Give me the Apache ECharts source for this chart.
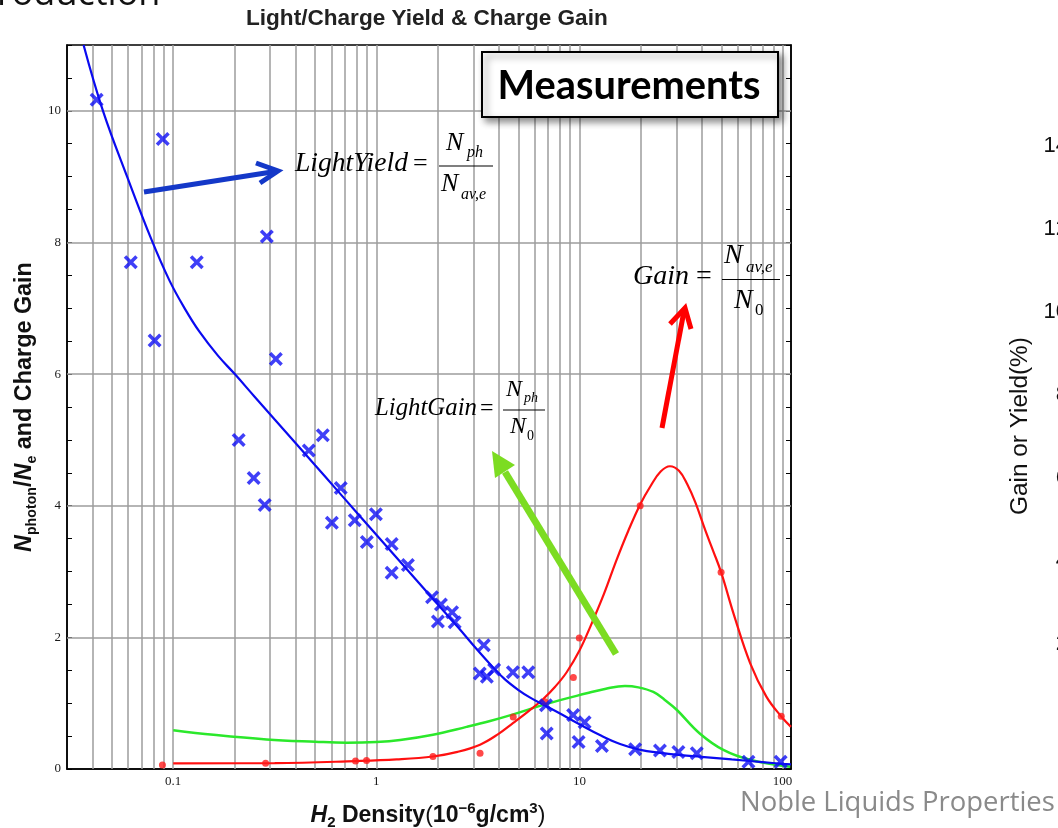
<!DOCTYPE html>
<html>
<head>
<meta charset="utf-8">
<script src="https://cdn.jsdelivr.net/npm/echarts@6/dist/echarts.min.js"></script>
<style>
html,body{margin:0;padding:0;background:#fff;overflow:hidden}
#c{width:1058px;height:828px}
</style>
</head>
<body>
<div id="c"></div>
<script>
// ---------------- DATA ----------------
// Light yield measurements (blue crosses)
const yieldDensity = [0.042,0.0888,0.0618,0.081,0.1306,0.289,0.320,0.210,0.249,0.282,0.465,0.545,0.668,0.604,0.783,0.898,0.995,1.19,1.19,1.43,1.88,2.08,2.01,2.36,2.43,3.38,3.23,3.50,3.80,4.70,5.60,6.84,6.90,9.31,10.6,9.9,12.9,18.8,24.9,30.7,37.8,67.9,97.8];
const yieldValues  = [10.17,9.57,7.70,6.51,7.70,8.09,6.23,5.00,4.42,4.01,4.84,5.07,4.27,3.74,3.78,3.45,3.87,3.42,2.98,3.10,2.61,2.50,2.24,2.38,2.23,1.88,1.45,1.40,1.51,1.47,1.47,0.97,0.54,0.82,0.71,0.41,0.35,0.30,0.28,0.26,0.24,0.11,0.11];
// Light yield fit (blue curve)
const yieldFitDensity = [0.0362,0.0451,0.0598,0.078,0.0959,0.1148,0.1349,0.166,0.201,0.251,0.316,0.398,0.501,0.631,0.794,1.0,1.259,1.585,1.995,2.512,3.162,3.69,4.27,5.01,5.75,6.61,7.94,10,12.9,15.85,19.95,25.1,31.6,39.8,56.2,79.4,100,110];
const yieldFitValues  = [11,10,8.97,8.05,7.42,6.98,6.64,6.28,6.0,5.66,5.31,4.96,4.61,4.26,3.91,3.56,3.21,2.86,2.51,2.16,1.8,1.57,1.37,1.2,1.08,0.98,0.85,0.68,0.5,0.38,0.29,0.245,0.21,0.185,0.145,0.105,0.078,0.07];
// Charge gain measurements (red dots)
const gainDensity = [0.0885,0.285,0.79,0.895,1.90,3.24,4.72,6.76,9.33,9.98,19.9,49.8,98.5];
const gainValues  = [0.06,0.087,0.12,0.13,0.19,0.24,0.79,1.02,1.39,1.99,4.0,2.99,0.80];
// Charge gain fit (red curve)
const gainFitDensity = [0.1,0.316,0.794,1.26,1.9,2.51,3.24,3.98,4.72,5.62,6.61,7.59,8.65,10,11.3,13.2,15.2,17.4,19.9,22.4,25.1,27.9,30.9,33.9,37.2,41.7,45.7,49.8,57.5,69.2,83.2,99,110];
const gainFitValues  = [0.085,0.09,0.12,0.145,0.19,0.26,0.37,0.53,0.70,0.88,1.06,1.25,1.47,1.8,2.16,2.66,3.17,3.62,4.02,4.3,4.52,4.6,4.53,4.33,4.05,3.62,3.3,2.99,2.35,1.61,1.1,0.79,0.64];
// Light gain fit (green curve)
const lightGainFitDensity = [0.1,0.158,0.288,0.5,0.713,1.0,1.31,1.9,2.78,3.63,4.72,6.89,10.85,13.5,16.75,19.5,23.1,26.3,30.1,39.1,51.1,69.2,109];
const lightGainFitValues  = [0.59,0.52,0.45,0.415,0.40,0.41,0.44,0.52,0.64,0.73,0.83,0.99,1.15,1.22,1.26,1.24,1.17,1.05,0.90,0.54,0.29,0.14,0.035];
// Tick labels
const xTickValues = [0.1,1,10,100];
const xTickLabels = ['0.1','1','10','100'];
const yTickValues = [0,2,4,6,8,10];
const yTickLabels = ['0','2','4','6','8','10'];
const rightPanelTicks = ['14','12','10','8','6','4','2'];

// ---------------- HELPERS ----------------
const zip = (a,b) => a.map((v,i)=>[v,b[i]]);
const decades = [0.01,0.1,1,10,100];
const gridDensities = [];
decades.forEach(d => { for (let m=1;m<=9;m++){ const v=+(d*m).toPrecision(6); if (v>0.031 && v<109) gridDensities.push(v);} });
const gridLevels = [2,4,6,8,10];

const mctx = document.createElement('canvas').getContext('2d');
function fontOf(s){ return (s.italic?'italic ':'')+(s.bold?'bold ':'')+s.size+'px '+(s.family||'"Liberation Serif"'); }
function measure(s){ mctx.font = fontOf(s); return mctx.measureText(s.text).width; }
function mkText(x, y, s, fill){
  return {type:'text', x:x, y:y - 0.34*s.size, z:100, silent:true,
    style:{text:s.text, fontSize:s.size, fontFamily:s.family||'"Liberation Serif"',
      fontStyle:s.italic?'italic':'normal', fontWeight:s.bold?'bold':'normal',
      fill:s.fill||fill||'#000', align:'left', verticalAlign:'middle'}};
}
// run of segments on a common baseline, origin (x0,y0) = (anchor, baseline)
function run(segs, x0, y0, opt){
  opt = opt||{};
  let total = segs.reduce((a,s)=>a+measure(s),0);
  if (opt.width){ const k = opt.width/total; segs = segs.map(s=>Object.assign({},s,{size:s.size*k, dy:(s.dy||0)*k})); total = opt.width; }
  let x = opt.align==='center' ? -total/2 : (opt.align==='right' ? -total : 0);
  const kids = segs.map(s=>{ const el = mkText(x, s.dy||0, s, opt.fill); x += measure(s); return el; });
  return {type:'group', x:x0, y:y0, rotation:opt.rotation||0, z:100, silent:true, children:kids};
}
const T = (x,b,text,size,o,w) => run([Object.assign({text:text,size:size},o||{})], x, b, w?{width:w}:{});
const seg = (text,size,o) => Object.assign({text:text,size:size},o||{});
function hline(x1,y,x2,w,c){ return {type:'line', z:100, silent:true, shape:{x1:x1,y1:y,x2:x2,y2:y}, style:{stroke:c||'#000', lineWidth:w||1.2}}; }

const SANS = '"Liberation Sans"';
const graphics = [];
// cut-off slide text at top-left
graphics.push(run([seg('roduction',36,{family:'"Open Sans"'})], -3, 7, {fill:'#111'}));
// title
graphics.push(run([seg('Light/Charge Yield & Charge Gain',22,{bold:true,family:SANS})], 427, 26, {align:'center', width:362, fill:'#222'}));
// y axis title (rotated)
graphics.push(run([
  seg('N',23,{bold:true,italic:true,family:SANS}),
  seg('photon',14,{bold:true,family:SANS,dy:5}),
  seg('/',23,{bold:true,family:SANS}),
  seg('N',23,{bold:true,italic:true,family:SANS}),
  seg('e',14,{bold:true,family:SANS,dy:5}),
  seg(' and Charge Gain',23,{bold:true,family:SANS})
], 32, 407, {align:'center', rotation:Math.PI/2, width:290, fill:'#111'}));
// x axis title
graphics.push(run([
  seg('H',23,{bold:true,italic:true,family:SANS}),
  seg('2',15,{bold:true,family:SANS,dy:5}),
  seg(' Density',23,{bold:true,family:SANS}),
  seg('(',23,{family:SANS}),
  seg('10',23,{bold:true,family:SANS}),
  seg('\u22126',15,{bold:true,family:SANS,dy:-9}),
  seg('g/cm',23,{bold:true,family:SANS}),
  seg('3',15,{bold:true,family:SANS,dy:-9}),
  seg(')',23,{family:SANS})
], 428, 823, {align:'center', width:235, fill:'#111'}));
// Measurements box
graphics.push({type:'rect', z:99, silent:true, shape:{x:482,y:52,width:296,height:65},
  style:{fill:'#fff', stroke:'#000', lineWidth:2, shadowBlur:7, shadowOffsetX:4, shadowOffsetY:4, shadowColor:'rgba(0,0,0,0.45)'}});
graphics.push(run([seg('Measurements',38,{bold:true,family:'Lato'})], 629, 99.5, {align:'center', width:263, fill:'#000'}));
// LightYield formula
graphics.push(T(295,173,'LightYield',26,{italic:true},113));
graphics.push(T(413,173,'=',26));
graphics.push(hline(439,166,493,1.2));
graphics.push(T(446,152,'N',26,{italic:true}));
graphics.push(T(467,158,'ph',16,{italic:true}));
graphics.push(T(441,193,'N',26,{italic:true}));
graphics.push(T(461,200,'av,e',16,{italic:true}));
// Gain formula
graphics.push(T(633,286,'Gain',28,{italic:true}));
graphics.push(T(696,286,'=',28));
graphics.push(hline(722,279.5,780,1.2));
graphics.push(T(724,265,'N',28,{italic:true}));
graphics.push(T(746,273,'av,e',17,{italic:true}));
graphics.push(T(734,310,'N',28,{italic:true}));
graphics.push(T(755,316,'0',17));
// LightGain formula
graphics.push(T(375,417,'LightGain',24,{italic:true},102));
graphics.push(T(480,417,'=',24));
graphics.push(hline(503,410,545,1.2));
graphics.push(T(506,398,'N',24,{italic:true}));
graphics.push(T(524,403,'ph',14,{italic:true}));
graphics.push(T(510,435,'N',24,{italic:true}));
graphics.push(T(527,441,'0',14));
// arrows
graphics.push({type:'line', z:100, silent:true, shape:{x1:144,y1:192,x2:275,y2:171.5}, style:{stroke:'#1438c8', lineWidth:5}});
graphics.push({type:'polyline', z:100, silent:true, shape:{points:[[256,163],[278,171],[260,183]]}, style:{stroke:'#1438c8', lineWidth:5, fill:null, lineJoin:'miter'}});
graphics.push({type:'line', z:100, silent:true, shape:{x1:662,y1:428,x2:684,y2:311}, style:{stroke:'#ff0000', lineWidth:5}});
graphics.push({type:'polyline', z:100, silent:true, shape:{points:[[670,324],[685,308],[691,329]]}, style:{stroke:'#ff0000', lineWidth:5, fill:null, lineJoin:'miter'}});
graphics.push({type:'line', z:100, silent:true, shape:{x1:616,y1:654,x2:505,y2:472}, style:{stroke:'#7cdc22', lineWidth:7}});
graphics.push({type:'polygon', z:100, silent:true, shape:{points:[[492,451],[515,465],[495,478]]}, style:{fill:'#7cdc22'}});
// right slide remnants
graphics.push(run([seg('Gain or Yield(%)',24,{family:SANS})], 1029, 426, {align:'center', rotation:Math.PI/2, width:178, fill:'#111'}));
rightPanelTicks.forEach((t,i)=>{ graphics.push(run([seg(t,22,{family:SANS})], 1068, 153+i*83, {align:'right', fill:'#111'})); });
graphics.push(run([seg('Noble Liquids Properties',26,{family:'"Open Sans"'})], 740, 813, {width:315, fill:'#8a8a8a'}));

// ---------------- CHART ----------------
const crossPath = 'path://M0,2.5L2.5,0L7,4.5L11.5,0L14,2.5L9.5,7L14,11.5L11.5,14L7,9.5L2.5,14L0,11.5L4.5,7Z';
const labelFont = {color:'#1a1a1a', fontFamily:'"Liberation Serif"', fontSize:13};
function xFmt(v){ const i = xTickValues.findIndex(t=>Math.abs(Math.log10(v)-Math.log10(t))<1e-6); return i>=0 ? xTickLabels[i] : ''; }
function yFmt(v){ const i = yTickValues.findIndex(t=>Math.abs(v-t)<1e-9); return i>=0 ? yTickLabels[i] : ''; }
const yAxisBase = {type:'value', min:0, max:11, interval:0.5,
  axisLine:{show:true, onZero:false, lineStyle:{color:'#000', width:1.5}},
  axisTick:{show:true, inside:true, length:5, lineStyle:{color:'#000', width:1}},
  splitLine:{show:false}};

const chart = echarts.init(document.getElementById('c'), null, {renderer:'canvas'});
chart.setOption({
  animation:false,
  backgroundColor:'#fff',
  grid:{left:67, right:267, top:45, bottom:59, show:true, borderColor:'#000', borderWidth:1.5, backgroundColor:'transparent'},
  xAxis:[{type:'log', logBase:10, min:0.03, max:110,
    axisLine:{show:true, onZero:false, lineStyle:{color:'#000', width:1.5}},
    axisTick:{show:false}, splitLine:{show:false}, minorTick:{show:false}, minorSplitLine:{show:false},
    axisLabel:Object.assign({formatter:xFmt, margin:6, showMinLabel:false, showMaxLabel:false}, labelFont)}],
  yAxis:[
    Object.assign({}, yAxisBase, {position:'left', axisLabel:Object.assign({formatter:yFmt, margin:6}, labelFont)}),
    Object.assign({}, yAxisBase, {position:'right', axisLabel:{show:false}})
  ],
  graphic:{elements:graphics},
  series:[
    {type:'line', name:'grid', data:[], silent:true, z:1,
      markLine:{silent:true, z:1, symbol:['none','none'], label:{show:false}, animation:false,
        lineStyle:{color:'#9c9c9c', width:1.5, type:'solid'},
        emphasis:{disabled:true},
        data: gridDensities.map(v=>({xAxis:v})).concat(gridLevels.map(v=>({yAxis:v})))}},
    {type:'line', name:'Light gain fit', data:zip(lightGainFitDensity, lightGainFitValues), smooth:0.4, showSymbol:false, symbol:'none', z:3,
      lineStyle:{color:'#2be82b', width:2.5}},
    {type:'line', name:'Gain fit', data:zip(gainFitDensity, gainFitValues), smooth:0.4, showSymbol:false, symbol:'none', z:3,
      lineStyle:{color:'#ff1010', width:2.2}},
    {type:'line', name:'Yield fit', data:zip(yieldFitDensity, yieldFitValues), smooth:0.4, showSymbol:false, symbol:'none', z:3,
      lineStyle:{color:'#0a0af0', width:2.2}},
    {type:'scatter', name:'Gain', data:zip(gainDensity, gainValues), symbol:'circle', symbolSize:7, z:4,
      itemStyle:{color:'#ff1a1a'}},
    {type:'scatter', name:'Light yield', data:zip(yieldDensity, yieldValues), symbol:crossPath, symbolSize:14, z:5,
      itemStyle:{color:'#0f0ff5'}}
  ]
});
</script>
</body>
</html>
